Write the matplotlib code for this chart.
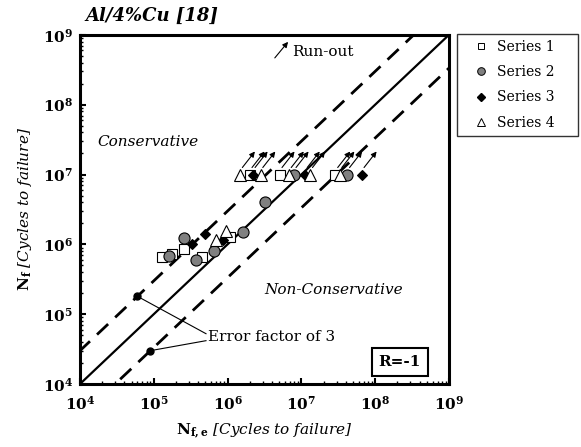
import numpy as np
import matplotlib
matplotlib.use('Agg')
import matplotlib.pyplot as plt
from matplotlib.ticker import LogLocator, NullFormatter, FixedLocator

plt.rcParams['font.family'] = 'DejaVu Serif'
plt.rcParams['mathtext.fontset'] = 'dejavuserif'

# data, Nf,e vs Nf
s1_x = [1.3e5, 1.75e5, 2.6e5, 4.5e5, 1.07e6]
s1_y = [6.6e5, 7.2e5, 8.5e5, 6.6e5, 1.26e6]
s2_x = [1.6e5, 2.55e5, 3.7e5, 6.5e5, 1.6e6, 3.2e6]
s2_y = [6.8e5, 1.23e6, 6.0e5, 8.1e5, 1.48e6, 4.0e6]
s3_x = [3.3e5, 4.9e5, 8.7e5]
s3_y = [1.0e6, 1.41e6, 1.17e6]
s4_x = [6.9e5, 9.5e5]
s4_y = [1.17e6, 1.55e6]

# run-outs at 1e7 cycles
ro1_x = [2.0e6, 5.1e6, 2.9e7]
ro2_x = [7.9e6, 4.2e7]
ro3_x = [2.2e6, 1.12e7, 6.6e7]
ro4_x = [1.48e6, 2.8e6, 6.8e6, 1.32e7, 3.3e7]
ro_y = 1e7

fig = plt.figure(figsize=(5.81, 4.47), dpi=100)
ax = fig.add_axes([0.1377, 0.141, 0.635, 0.781])
ax.set_xscale('log')
ax.set_yscale('log')
ax.set_xlim(1e4, 1e9)
ax.set_ylim(1e4, 1e9)

# 1:1 and factor-of-3 lines
xx = np.array([1e3, 1e10])
ax.plot(xx, xx, color='black', lw=1.6, zorder=2)
ax.plot(xx, xx * 3, color='black', lw=2.0, dashes=(5.5, 3.5), zorder=2)
ax.plot(xx, xx / 3, color='black', lw=2.0, dashes=(5.5, 3.5), zorder=2)

mk = dict(markeredgecolor='black', markeredgewidth=0.8, linestyle='none', zorder=4)
ax.plot(s1_x + ro1_x, s1_y + [ro_y] * len(ro1_x), 's', markersize=6.5, markerfacecolor='white', **mk)
ax.plot(s2_x + ro2_x, s2_y + [ro_y] * len(ro2_x), 'o', markersize=8, markerfacecolor='#808080', **mk)
ax.plot(s3_x + ro3_x, s3_y + [ro_y] * len(ro3_x), 'D', markersize=5.5, markerfacecolor='black', **mk)
ax.plot(s4_x + ro4_x, s4_y + [ro_y] * len(ro4_x), '^', markersize=9, markerfacecolor='white', **mk)

# run-out arrows
for x in ro1_x + ro2_x + ro3_x + ro4_x:
    ax.annotate('', xy=(x * 10 ** 0.2, ro_y * 10 ** 0.33),
                xytext=(x * 10 ** 0.03, ro_y * 10 ** 0.1),
                arrowprops=dict(arrowstyle='-|>', color='black', lw=0.8,
                                mutation_scale=8, shrinkA=0, shrinkB=0), zorder=5)

# legend entries
h1, = ax.plot([], [], 's', markersize=4.5, markerfacecolor='white', markeredgecolor='black', markeredgewidth=0.7)
h2, = ax.plot([], [], 'o', markersize=5.5, markerfacecolor='#808080', markeredgecolor='black', markeredgewidth=0.7)
h3, = ax.plot([], [], 'D', markersize=4.5, markerfacecolor='black', markeredgecolor='black')
h4, = ax.plot([], [], '^', markersize=5.5, markerfacecolor='white', markeredgecolor='black', markeredgewidth=0.7)
leg = fig.legend([h1, h2, h3, h4], ['Series 1', 'Series 2', 'Series 3', 'Series 4'],
                 loc='upper left', bbox_to_anchor=(457 / 581, 1 - 132 / 447, 121 / 581, 98 / 447),
                 mode='expand', fontsize=10, frameon=True, fancybox=False, handlelength=2.6,
                 handletextpad=-0.2, borderpad=0.45, labelspacing=0.8, borderaxespad=0)
leg.get_frame().set_edgecolor('black')
leg.get_frame().set_linewidth(1.0)

# error factor annotation
ax.plot([6e4, 9e4], [1.8e5, 3.0e4], 'o', color='black', markersize=5, zorder=5)
ax.plot([5.1e5, 6e4], [10 ** 4.72, 1.8e5], color='black', lw=0.8)
ax.plot([5.1e5, 9e4], [10 ** 4.62, 3.0e4], color='black', lw=0.8)
ax.text(5.4e5, 10 ** 4.67, 'Error factor of 3', fontsize=11, va='center', ha='left')

# run-out legend arrow
ax.annotate('', xy=(10 ** 6.82, 10 ** 8.9), xytext=(10 ** 6.64, 10 ** 8.67),
            arrowprops=dict(arrowstyle='-|>', color='black', lw=0.8,
                            mutation_scale=8, shrinkA=0, shrinkB=0))
ax.text(10 ** 6.87, 10 ** 8.76, 'Run-out', fontsize=11, va='center', ha='left')

ax.text(10 ** 4.24, 10 ** 7.47, 'Conservative', fontsize=11, style='italic', va='center')
ax.text(10 ** 6.5, 10 ** 5.35, 'Non-Conservative', fontsize=11, style='italic', va='center')

ax.text(0.867, 0.063, 'R=-1', transform=ax.transAxes, fontsize=11, fontweight='bold',
        ha='center', va='center',
        bbox=dict(boxstyle='square,pad=0.45', facecolor='white', edgecolor='black', lw=1.5))

# axes styling
for sp in ax.spines.values():
    sp.set_linewidth(2.2)
major = [1e4, 1e5, 1e6, 1e7, 1e8, 1e9]
ax.xaxis.set_major_locator(FixedLocator(major))
ax.yaxis.set_major_locator(FixedLocator(major))
ax.xaxis.set_minor_locator(LogLocator(base=10, subs=np.arange(2, 10)))
ax.yaxis.set_minor_locator(LogLocator(base=10, subs=np.arange(2, 10)))
ax.xaxis.set_minor_formatter(NullFormatter())
ax.yaxis.set_minor_formatter(NullFormatter())
labels = [r'$\mathbf{10^{%d}}$' % k for k in range(4, 10)]
ax.set_xticklabels(labels, fontsize=11)
ax.set_yticklabels(labels, fontsize=11)
ax.tick_params(which='major', direction='in', length=4, width=1.5)
ax.tick_params(which='minor', direction='in', length=2, width=1.0)
ax.tick_params(axis='x', pad=8)
ax.tick_params(axis='y', pad=5)

ax.set_xlabel(r'$\mathbf{N_{f,e}}$ [Cycles to failure]', fontsize=11, style='italic', labelpad=6)
ax.set_ylabel(r'$\mathbf{N_{f}}$ [Cycles to failure]', fontsize=11, style='italic', labelpad=6)

fig.text(85 / 581, 1 - 16 / 447, 'Al/4%Cu [18]', fontsize=13, fontweight='bold',
         style='italic', va='center', ha='left')

fig.savefig('out.png', dpi=100)
